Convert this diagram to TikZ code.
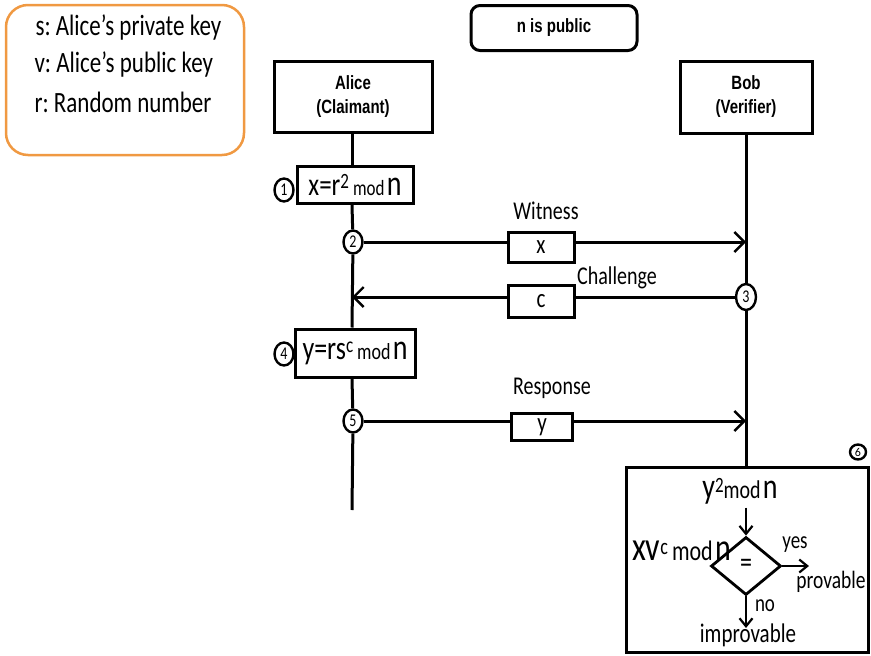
\documentclass[tikz,border=0pt]{standalone}
\usepackage{fontspec}
\usepackage{graphicx}
\setmainfont{Carlito}
\newfontfamily\arialf{Liberation Sans}
\usetikzlibrary{arrows.meta,shapes.geometric}
\frenchspacing
\newcommand\fs[1]{\fontsize{#1}{#1}\selectfont}
\newcommand\st[1]{\scalebox{1}[1.28]{#1}}
\newcommand\upidx[2][16]{\raisebox{1.0ex}{\fs{#1}#2}}
\tikzset{
  thick line/.style={line width=3pt},
  box/.style={draw, line width=3pt, inner sep=0pt},
  num/.style={draw, ellipse, line width=2.4pt, inner sep=0pt, minimum width=19pt, minimum height=23pt, font=\fs{14}},
  msg/.style={line width=3pt, -{Straight Barb[length=10pt,width=20pt,line width=2.4pt]}},
  lbl/.style={font=\fs{20}},
  small arrow/.style={line width=2.6pt, -{Straight Barb[length=8pt,width=13pt,line width=2.2pt]}},
}
\begin{document}
\begin{tikzpicture}[x=1pt,y=-1pt]
\useasboundingbox (0,0) rectangle (871,656);
% legend
\node[draw=orange!70!brown!80, line width=2.5pt, rounded corners=22pt, minimum width=238pt, minimum height=150pt, inner sep=0pt] (legend) at (125,80) {};
\node[anchor=west, font=\fs{23}] (l1) at (32,27) {\st{s: Alice’s private key}};
\node[anchor=west, font=\fs{23}] (l2) at (31,64) {\st{v: Alice’s public key}};
\node[anchor=west, font=\fs{23}] (l3) at (31,102) {\st{r: Random number}};
% n is public
\node[draw, line width=3pt, rounded corners=9pt, minimum width=166pt, minimum height=45pt, font=\arialf\bfseries\fs{15}] (pub) at (554,28) {\st{n is public}};
% actors
\node[box, minimum width=158pt, minimum height=71pt, font=\arialf\bfseries\fs{15}, align=center] (alice) at (353,97) {\st{Alice}\\[9pt]\st{(Claimant)}};
\node[box, minimum width=132pt, minimum height=72pt, font=\arialf\bfseries\fs{15}, align=center] (bob) at (746,97) {\st{Bob}\\[9pt]\st{(Verifier)}};
% step 1
\node[box, minimum width=116pt, minimum height=37pt] (s1) at (355,185) {\st{{\fs{25}x=r}\upidx[17]{2}\hspace{4pt}{\fs{17}mod} {\fs{28}n}}};
\node[num] (c1) at (284,190) {\st{1}};
% lifeline Alice
\coordinate (aend) at (352,510);
\node[num] (c2) at (353,242) {\st{2}};
\node[box, minimum width=120pt, minimum height=48pt] (s4) at (355,353) {\st{{\fs{26}y=rs}\upidx[17]{c}\hspace{4pt}{\fs{18}mod} {\fs{28}n}}};
\node[num] (c4) at (284,354) {\st{4}};
\node[num] (c5) at (353,421) {\st{5}};
\draw[thick line] (alice.south -| 352,0) -- (s1.north -| 352,0);
\draw[thick line] (s1.south -| 352,0) -- (c2);
\draw[thick line] (c2) -- (s4.north -| 352,0);
\draw[thick line] (s4.south -| 352,0) -- (c5);
\draw[thick line] (c5) -- (aend);
% Bob lifeline
\node[box, minimum width=242pt, minimum height=185pt] (s6) at (747,560) {};
\node[num, minimum width=16pt, minimum height=15pt, font=\fs{12}] (c6) at (858,452) {6};
\node[num, minimum width=20pt, minimum height=26pt] (c3) at (746,297) {\st{3}};
\draw[thick line] (bob.south -| 746,0) -- (c3);
\draw[thick line] (c3) -- (s6.north -| 746,0);
% message coordinates
\coordinate (bw) at (746,242);
\coordinate (ac) at (352,297);
\coordinate (br) at (746,421);
\draw[msg] (c2) -- (bw);
\draw[msg] (c3) -- (ac);
\draw[msg] (c5) -- (br);
\node[box, fill=white, minimum width=66pt, minimum height=30pt, font=\fs{21}] (mx) at (541,247) {\st{x}};
\node[box, fill=white, minimum width=66pt, minimum height=32pt, font=\fs{21}] (mc) at (541,301) {\st{c}};
\node[box, fill=white, minimum width=61pt, minimum height=27pt, font=\fs{21}] (my) at (542,427) {\st{y}};
\node[lbl] (lw) at (546,211) {\st{Witness}};
\node[lbl] (lc) at (617,278) {\st{Challenge}};
\node[lbl] (lr) at (552,388) {\st{Response}};
% step 6 contents
\node (y2) at (740,491) {\st{{\fs{28}y}\upidx[17]{2}{\fs{20}mod} {\fs{28}n}}};
\node[draw, diamond, line width=2.8pt, minimum width=70pt, minimum height=58pt, inner sep=0pt, font=\fs{24}] (eq) at (746,566) {\st{=}};
\node[anchor=east, inner sep=0pt] (xv) at (731,551) {\st{{\fs{32}xv}\upidx[18]{c}\hspace{4pt}{\fs{22}mod} {\fs{30}n}}};
\coordinate (yesend) at (809,566);
\coordinate (noend) at (746,628);
\draw[small arrow] (y2.south -| 746,0) -- (eq.north);
\draw[small arrow] (eq.east) -- (yesend);
\draw[small arrow] (eq.south) -- (noend);
\node[font=\fs{19}] (yes) at (795,545) {\st{yes}};
\node[font=\fs{19.5}] (prov) at (831,582) {\st{provable}};
\node[font=\fs{19}] (no) at (765,606) {\st{no}};
\node[font=\fs{21}] (improv) at (748,635) {\st{improvable}};
\end{tikzpicture}
\end{document}
